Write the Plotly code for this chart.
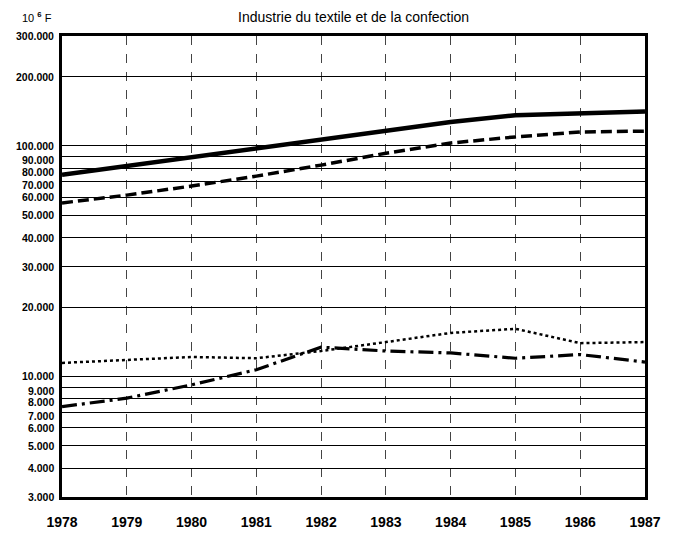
import plotly.graph_objects as go
import math

years = [1978, 1979, 1980, 1981, 1982, 1983, 1984, 1985, 1986, 1987]
solid = [75000, 82000, 89500, 98000, 106000, 116000, 127000, 136000, 138000, 141000]
dashed = [56600, 61200, 67000, 74000, 82600, 93000, 103000, 109500, 115000, 116000]
dotted = [11450, 11800, 12150, 12000, 12900, 14100, 15450, 16100, 13950, 14100]
dashdot = [7400, 8050, 9200, 10700, 13400, 12900, 12650, 12000, 12450, 11550]

ytickvals = [3000, 4000, 5000, 6000, 7000, 8000, 9000, 10000, 20000, 30000, 40000,
             50000, 60000, 70000, 80000, 90000, 100000, 200000, 300000]
yticktext = ["3.000", "4.000", "5.000", "6.000", "7.000", "8.000", "9.000", "10.000",
             "20.000", "30.000", "40.000", "50.000", "60.000", "70.000", "80.000",
             "90.000", "100.000", "200.000", "300.000"]
# small vertical nudges for crowded labels (pixels, negative = down)
label_nudge = {9000: -3.5, 8000: -3.5, 7000: -3.5,
               90000: -3, 80000: -3.6, 70000: -3.2}

title_text = "Industrie du textile et de la confection"
unit_text = "10 <b><sup>6</sup></b> F"

fig = go.Figure()
fig.add_trace(go.Scatter(x=years, y=solid, mode="lines",
                         line=dict(color="black", width=4.5)))
fig.add_trace(go.Scatter(x=years, y=dashed, mode="lines",
                         line=dict(color="black", width=3.5, dash="11px,5px")))
fig.add_trace(go.Scatter(x=years, y=dotted, mode="lines",
                         line=dict(color="black", width=2.5, dash="3px,3px")))
fig.add_trace(go.Scatter(x=years, y=dashdot, mode="lines",
                         line=dict(color="black", width=3.2, dash="15px,5px,3px,5px")))

annotations = [
    dict(text=title_text, x=0.5, xref="paper", y=1.0, yref="paper",
         yanchor="middle", yshift=19, showarrow=False,
         font=dict(size=14, color="black")),
    dict(text=unit_text, x=-0.072, xref="paper", xanchor="left",
         y=1.0, yref="paper", yanchor="middle", yshift=19, showarrow=False,
         font=dict(size=11, color="black")),
]
for v, t in zip(ytickvals, yticktext):
    annotations.append(dict(
        text="<b>" + t + "</b>", x=0, xref="paper", xanchor="right", xshift=-6,
        y=math.log10(v), yref="y", yanchor="middle", yshift=label_nudge.get(v, 0),
        showarrow=False, font=dict(size=10.5, color="black")))

# page body has an 8px margin; compensate so the plot lands where the reference's does
fig.update_layout(
    width=672, height=526,
    margin=dict(l=54, r=35, t=28, b=37),
    paper_bgcolor="white", plot_bgcolor="white",
    showlegend=False,
    font=dict(family="Liberation Sans, Arial, sans-serif", color="black"),
    annotations=annotations,
)

fig.update_xaxes(
    range=[1978, 1987], tickvals=years,
    ticktext=["<b>%d</b>" % y for y in years],
    tickfont=dict(size=14, color="black"),
    showgrid=True, gridcolor="#444", gridwidth=1, griddash="dash",
    showline=True, linecolor="black", linewidth=2.5, mirror=True,
    ticks="", zeroline=False, ticklabelstandoff=10, automargin=False,
)
fig.update_yaxes(
    type="log", range=[math.log10(3000), math.log10(300000)],
    tickvals=ytickvals, showticklabels=False,
    showgrid=True, gridcolor="black", gridwidth=1,
    showline=True, linecolor="black", linewidth=2.5, mirror=True,
    ticks="", zeroline=False, automargin=False,
)

fig.write_html("out.html")
